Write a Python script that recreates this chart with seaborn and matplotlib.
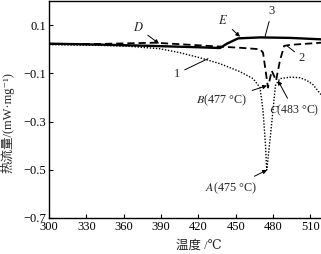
import numpy as np
import pandas as pd
import matplotlib
matplotlib.use("Agg")
import matplotlib.pyplot as plt
import seaborn as sns

# ---- data ----
t3 = [300, 341, 381, 421, 437.4, 443, 452, 469.6, 493.7, 518.6]
h3 = [0.023, 0.019, 0.014, 0.008, 0.005, 0.023, 0.045, 0.049, 0.047, 0.041]

t2 = [300, 341, 385, 421, 453.5, 469.6, 472, 476, 479, 482.5, 485.6, 489, 493.7, 518.6]
h2 = [0.021, 0.022, 0.027, 0.016, 0.006, 0.0, -0.014, -0.159, -0.089, -0.13, -0.047, 0.014, 0.018, 0.027]

t1 = [300, 341, 365, 389, 405, 421, 437.4, 453.5, 464, 469.6, 472, 474, 475,
      477.6, 480, 482, 485.6, 493.7, 501.7, 507.3, 512, 518.6]
h1 = [0.019, 0.016, 0.012, 0.002, -0.014, -0.035, -0.06, -0.093, -0.122, -0.159, -0.254, -0.398, -0.501,
      -0.377, -0.254, -0.15, -0.122, -0.116, -0.118, -0.13, -0.146, -0.188]

xticks = [300, 330, 360, 390, 420, 450, 480, 510]
yticks = [0.1, -0.1, -0.3, -0.5, -0.7]

sns.set_style("ticks")
plt.rcParams['font.family'] = ['Liberation Serif', 'DejaVu Serif', 'Noto Sans CJK SC']
plt.rcParams['mathtext.fontset'] = 'stix'
plt.rcParams['font.size'] = 9

fig = plt.figure(figsize=(3.21, 2.54), dpi=100)
ax = fig.add_axes([49/321, 36/254, 1 - 49/321, 1 - 36/254 - 1/254])

df1 = pd.DataFrame({'T': t1, 'H': h1})
df2 = pd.DataFrame({'T': t2, 'H': h2})
df3 = pd.DataFrame({'T': t3, 'H': h3})

sns.lineplot(data=df1, x='T', y='H', ax=ax, color='black', lw=1.0, linestyle=(0, (1, 1.2)))
sns.lineplot(data=df2, x='T', y='H', ax=ax, color='black', lw=1.3, linestyle=(0, (4, 2.2)))
sns.lineplot(data=df3, x='T', y='H', ax=ax, color='black', lw=1.7, linestyle='-')

ax.set_xlim(300, 518.6)
ax.set_ylim(-0.7, 0.2)
ax.set_xticks(xticks)
ax.set_yticks(yticks)
ax.set_yticklabels(['0.1', '\u22120.1', '\u22120.3', '\u22120.5', '\u22120.7'])
ax.tick_params(direction='in', length=3, width=0.8, labelsize=9, pad=2, colors='black')
for s in ['left', 'bottom', 'top']:
    ax.spines[s].set_linewidth(1.0)
    ax.spines[s].set_color('black')
ax.spines['right'].set_visible(False)

ax.set_xlabel('温度 /℃', fontsize=9)
ax.xaxis.set_label_coords((199 - 49) / 272, -0.10)
ax.set_ylabel('热流量/(mW·mg⁻¹)', fontsize=9)
ax.yaxis.set_label_coords(-0.125, 0.44)

arrow = dict(arrowstyle='-|>', color='black', lw=0.7, mutation_scale=6, shrinkA=1, shrinkB=0)
line = dict(arrowstyle='-', color='black', lw=0.7, shrinkA=1, shrinkB=0)

ax.annotate('$D$', xy=(388.4, 0.023), xytext=(371.5, 0.089), ha='center', va='center', fontsize=9, arrowprops=arrow)
ax.annotate('$E$', xy=(453.5, 0.052), xytext=(439.8, 0.118), ha='center', va='center', fontsize=9, arrowprops=arrow)
ax.annotate('3', xy=(473.6, 0.052), xytext=(479.2, 0.159), ha='center', va='center', fontsize=9, arrowprops=line)
ax.annotate('2', xy=(491.3, 0.014), xytext=(503.3, -0.035), ha='center', va='center', fontsize=9, arrowprops=line)
ax.annotate('1', xy=(427.8, -0.039), xytext=(402.9, -0.101), ha='center', va='center', fontsize=9, arrowprops=line)
ax.annotate('$B$(477 °C)', xy=(475.2, -0.151), xytext=(439, -0.212), ha='center', va='center', fontsize=8.7, arrowprops=arrow)
ax.annotate('$C$(483 °C)', xy=(484, -0.13), xytext=(497, -0.254), ha='center', va='center', fontsize=8.5, arrowprops=arrow)
ax.annotate('$A$(475 °C)', xy=(475.2, -0.501), xytext=(446.3, -0.575), ha='center', va='center', fontsize=8.7, arrowprops=arrow)

fig.savefig('out.png', dpi=100)
